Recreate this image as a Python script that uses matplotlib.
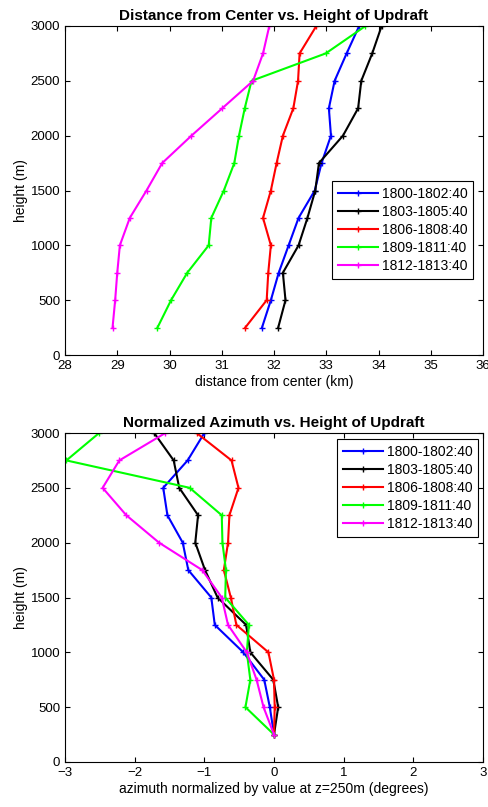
import matplotlib
matplotlib.use("Agg")
import matplotlib.pyplot as plt

heights = [250, 500, 750, 1000, 1250, 1500, 1750, 2000, 2250, 2500, 2750, 3000]
labels = ["1800-1802:40", "1803-1805:40", "1806-1808:40", "1809-1811:40", "1812-1813:40"]
colors = ["#0000FF", "#000000", "#FF0000", "#00FF00", "#FF00FF"]

dist_1800 = [31.77, 31.94, 32.09, 32.28, 32.47, 32.78, 32.91, 33.09, 33.05, 33.16, 33.39, 33.63]
dist_1803 = [32.08, 32.22, 32.17, 32.47, 32.64, 32.79, 32.86, 33.32, 33.61, 33.67, 33.88, 34.06]
dist_1806 = [31.45, 31.86, 31.89, 31.94, 31.79, 31.94, 32.05, 32.17, 32.37, 32.46, 32.49, 32.81]
dist_1809 = [29.77, 30.03, 30.34, 30.75, 30.80, 31.04, 31.24, 31.33, 31.44, 31.57, 32.99, 33.75]
dist_1812 = [28.91, 28.96, 29.00, 29.05, 29.24, 29.56, 29.86, 30.42, 31.01, 31.60, 31.79, 31.91]

az_1800 = [0.0, -0.06, -0.14, -0.44, -0.85, -0.90, -1.23, -1.31, -1.53, -1.59, -1.24, -1.00]
az_1803 = [0.0, 0.06, -0.01, -0.34, -0.40, -0.81, -0.99, -1.13, -1.09, -1.36, -1.44, -1.72]
az_1806 = [0.0, 0.01, 0.0, -0.08, -0.54, -0.62, -0.72, -0.66, -0.64, -0.51, -0.61, -1.11]
az_1809 = [0.0, -0.41, -0.34, -0.39, -0.36, -0.70, -0.69, -0.74, -0.75, -1.21, -2.98, -2.51]
az_1812 = [0.0, -0.15, -0.25, -0.39, -0.66, -0.75, -1.03, -1.65, -2.12, -2.46, -2.22, -1.56]

dist_series = [dist_1800, dist_1803, dist_1806, dist_1809, dist_1812]
az_series = [az_1800, az_1803, az_1806, az_1809, az_1812]

plt.rcParams['font.family'] = ['Liberation Sans', 'DejaVu Sans']

W, H = 489, 807
fig = plt.figure(figsize=(W / 100, H / 100), dpi=100)

def setup(ax, xlim, xticks, xlabel, title):
    ax.set_xlim(*xlim)
    ax.set_ylim(0, 3000)
    ax.set_xticks(xticks)
    ax.set_yticks(range(0, 3001, 500))
    ax.tick_params(direction='in', top=True, right=True, labelsize=9.5, length=3.5, width=0.8)
    ax.set_xlabel(xlabel, fontsize=10, labelpad=2)
    ax.set_ylabel('height (m)', fontsize=10, labelpad=2)
    ax.set_title(title, fontsize=11, fontweight='bold', pad=4)
    for s in ax.spines.values():
        s.set_linewidth(0.8)

AX_L, AX_W = 65, 418

def add_legend(ax, x_px, y_px, top_px):
    leg = ax.legend(loc='upper left',
                    bbox_to_anchor=((x_px - AX_L) / AX_W, 1 - (y_px - top_px) / 329),
                    fontsize=10, frameon=True, fancybox=False, edgecolor='black',
                    handlelength=2.9, borderpad=0.4, labelspacing=0.3, handletextpad=0.3,
                    borderaxespad=0, framealpha=1)
    leg.get_frame().set_linewidth(0.8)

ax1 = fig.add_axes([AX_L / W, 1 - 355 / H, AX_W / W, 329 / H])
for vals, c, lab in zip(dist_series, colors, labels):
    ax1.plot(vals, heights, color=c, lw=1.5, marker='+', ms=4, mew=1, label=lab)
setup(ax1, (28, 36), range(28, 37), 'distance from center (km)',
      'Distance from Center vs. Height of Updraft')
add_legend(ax1, 332, 181, 26)

ax2 = fig.add_axes([AX_L / W, 1 - 762 / H, AX_W / W, 329 / H])
for vals, c, lab in zip(az_series, colors, labels):
    ax2.plot(vals, heights, color=c, lw=1.5, marker='+', ms=4, mew=1, label=lab)
setup(ax2, (-3, 3), range(-3, 4), 'azimuth normalized by value at z=250m (degrees)',
      'Normalized Azimuth vs. Height of Updraft')
add_legend(ax2, 337, 439, 433)

fig.savefig('out.png', dpi=100)
